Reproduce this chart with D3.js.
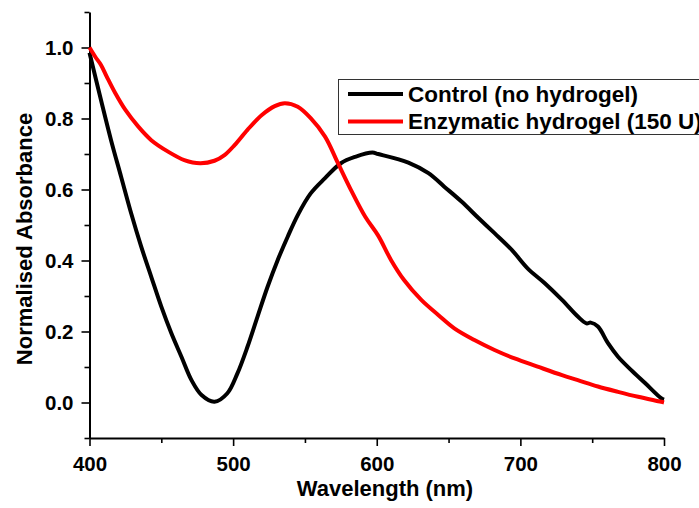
<!DOCTYPE html>
<html>
<head>
<meta charset="utf-8">
<script src="https://cdn.jsdelivr.net/npm/d3@7"></script>
<style>
  body { margin: 0; background: #fff; }
  svg { display: block; font-family: "Liberation Sans", Arial, sans-serif; font-weight: bold; }
</style>
</head>
<body>
<div id="chart"></div>
<script>
// Wavelength (nm) / normalised absorbance
const controlNm = [400, 408, 415, 422, 429, 436, 443, 450, 457, 464, 471, 478, 487, 496, 503, 510,
  517, 524, 531, 538, 545, 554, 564, 575, 585, 597, 601, 622, 636, 647, 659, 671, 682, 694,
  705, 717, 729, 740, 746, 749, 754, 761, 768, 777, 787, 798, 800];
const controlAbs = [0.985, 0.852, 0.739, 0.636, 0.533, 0.439, 0.354, 0.270, 0.195, 0.129, 0.063,
  0.021, 0.002, 0.026, 0.082, 0.157, 0.242, 0.326, 0.401, 0.467, 0.528, 0.589, 0.632, 0.674,
  0.692, 0.704, 0.700, 0.676, 0.646, 0.608, 0.566, 0.519, 0.477, 0.430, 0.378, 0.336, 0.289,
  0.242, 0.223, 0.225, 0.214, 0.167, 0.129, 0.092, 0.054, 0.012, 0.008];

const enzymeNm = [400, 404, 408, 412, 418, 425, 434, 443, 455, 466, 477, 487, 494, 501, 510,
  520, 529, 536, 545, 554, 564, 573, 582, 592, 601, 610, 619, 631, 643, 654, 668, 682, 696,
  712, 729, 740, 754, 768, 782, 798, 800];
const enzymeAbs = [1.0, 0.974, 0.951, 0.918, 0.871, 0.824, 0.777, 0.739, 0.706, 0.683, 0.674,
  0.681, 0.697, 0.725, 0.768, 0.810, 0.835, 0.843, 0.833, 0.801, 0.749, 0.674, 0.599, 0.523,
  0.470, 0.401, 0.345, 0.289, 0.246, 0.209, 0.176, 0.148, 0.124, 0.101, 0.077, 0.063, 0.045,
  0.030, 0.016, 0.002, 0.0];

const seriesNames = ["Control (no hydrogel)", "Enzymatic hydrogel (150 U)"];
const seriesColors = ["#000000", "#ff0000"];
const xMajor = [400, 500, 600, 700, 800];
const xMinor = [450, 550, 650, 750];
const yMajor = [0.0, 0.2, 0.4, 0.6, 0.8, 1.0];
const yMinor = [-0.1, 0.1, 0.3, 0.5, 0.7, 0.9, 1.1];

const width = 699, height = 508;
const svg = d3.select("#chart").append("svg")
  .attr("width", width)
  .attr("height", height);

const x = d3.scaleLinear().domain([400, 800]).range([89.5, 664]);
const y = d3.scaleLinear().domain([-0.1, 1.1]).range([438, 12]);

// minor ticks first
svg.append("g")
  .attr("transform", "translate(0,438)")
  .call(d3.axisBottom(x).tickValues(xMinor).tickSize(5).tickFormat(""))
  .call(g => g.select(".domain").remove());
svg.append("g")
  .attr("transform", "translate(89.5,0)")
  .call(d3.axisLeft(y).tickValues(yMinor).tickSize(5).tickFormat(""))
  .call(g => g.select(".domain").remove());

const xAxis = svg.append("g")
  .attr("transform", "translate(0,438)")
  .call(d3.axisBottom(x).tickValues(xMajor).tickSize(8).tickSizeOuter(0).tickPadding(10)
    .tickFormat(d3.format("d")));
const yAxis = svg.append("g")
  .attr("transform", "translate(89.5,0)")
  .call(d3.axisLeft(y).tickValues(yMajor).tickSize(8).tickSizeOuter(0).tickPadding(8)
    .tickFormat(d3.format(".1f")));

svg.selectAll(".tick line").attr("stroke", "#000").attr("stroke-width", 1.6);
svg.selectAll(".domain").attr("stroke", "#000").attr("stroke-width", 2);
[xAxis, yAxis].forEach(a => a.selectAll("text")
  .attr("fill", "#000")
  .style("font-size", "20.5px")
  .style("font-family", "'Liberation Sans', Arial, sans-serif")
  .style("font-weight", "bold"));

// axis titles
svg.append("text")
  .attr("x", 385)
  .attr("y", 496)
  .attr("text-anchor", "middle")
  .style("font-size", "22px")
  .text("Wavelength (nm)");
svg.append("text")
  .attr("transform", "translate(32,239) rotate(-90)")
  .attr("text-anchor", "middle")
  .style("font-size", "22px")
  .text("Normalised Absorbance");

// curves
const line = d3.line()
  .x(d => x(d[0]))
  .y(d => y(d[1]))
  .curve(d3.curveCatmullRom);

const series = [
  d3.zip(controlNm, controlAbs),
  d3.zip(enzymeNm, enzymeAbs)
];

svg.append("g")
  .selectAll("path")
  .data(series)
  .join("path")
  .attr("fill", "none")
  .attr("stroke", (d, i) => seriesColors[i])
  .attr("stroke-width", 4)
  .attr("stroke-linejoin", "round")
  .attr("d", line);

// legend (runs off the right edge like the original)
const legend = svg.append("g");
legend.append("rect")
  .attr("x", 338.5)
  .attr("y", 79.5)
  .attr("width", 420)
  .attr("height", 55)
  .attr("fill", "#fff")
  .attr("stroke", "#333")
  .attr("stroke-width", 1);
const rows = legend.selectAll("g.row")
  .data(seriesNames)
  .join("g")
  .attr("class", "row")
  .attr("transform", (d, i) => `translate(0,${94 + i * 27.5})`);
rows.append("line")
  .attr("x1", 348).attr("x2", 403)
  .attr("stroke", (d, i) => seriesColors[i])
  .attr("stroke-width", 4);
rows.append("text")
  .attr("x", 408)
  .attr("y", 7.5)
  .style("font-size", "22.5px")
  .text(d => d);
</script>
</body>
</html>
